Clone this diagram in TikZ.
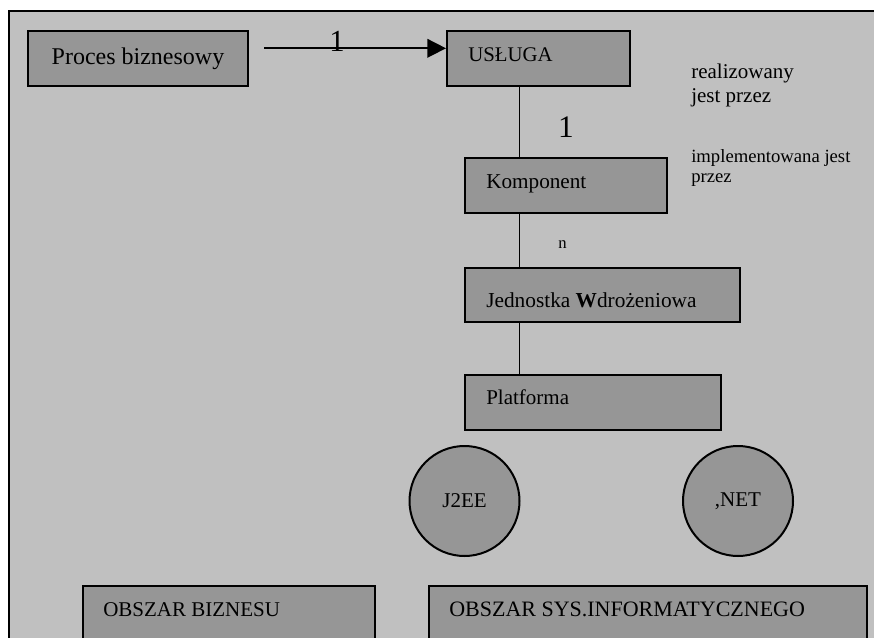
\documentclass[tikz,border=0pt]{standalone}
\usepackage{fontspec}
\setmainfont{Liberation Serif}
\usetikzlibrary{arrows.meta}

\definecolor{panel}{RGB}{192,192,192}
\definecolor{boxfill}{RGB}{150,150,150}

\begin{document}
\begin{tikzpicture}[x=0.75pt,y=-0.75pt,
  box/.style={draw=black, line width=1.5pt, fill=boxfill, inner sep=0pt, anchor=north west},
  lbl/.style={inner sep=0pt, anchor=base west, text=black},
  mult/.style={inner sep=0pt, anchor=base, text=black},
  conn/.style={draw=black, line width=1.2pt},
  disc/.style={circle, draw=black, line width=1.5pt, fill=boxfill, minimum size=82.5pt,
               inner sep=0pt, font=\fontsize{15.75}{18}\selectfont},
  txt/.style={font=\fontsize{15.75}{18}\selectfont}
]
% page area and the grey panel with its top and left frame lines
\clip (0,0) rectangle (874,638);
\fill[white] (0,0) rectangle (874,638);
\fill[panel] (9,11) rectangle (890,660);
\draw[line width=1.3pt] (9,660) -- (9,11) -- (890,11);

% business process
\node[box, minimum width=165pt, minimum height=40.9pt,
      font=\fontsize{18}{21}\selectfont] (proc) at (27,30.5) {Proces biznesowy};

% service chain
\node[box, minimum width=137.25pt, minimum height=41.25pt] (usluga) at (446,30) {};
\node[lbl, txt, font=\fontsize{15.6}{18}\selectfont] (uslugaT) at (468,62) {USŁUGA};

\node[box, minimum width=151.5pt, minimum height=41.25pt] (komp) at (464,157) {};
\node[lbl, font=\fontsize{15.9}{18}\selectfont] (kompT) at (486,188) {Komponent};

\node[box, minimum width=206.25pt, minimum height=40.5pt] (jedn) at (464,267) {};
\node[lbl, font=\fontsize{16}{18}\selectfont] (jednT) at (486,307) {Jednostka \textbf{W}drożeniowa};

\node[box, minimum width=192pt, minimum height=41.25pt] (plat) at (464,374) {};
\node[lbl, txt] (platT) at (486,404) {Platforma};

% platforms
\node[disc] (j2ee) at (464.5,501) {J2EE};
\node[disc] (dotnet) at (738,501) {,NET};

% areas along the bottom
\node[box, minimum width=219pt, minimum height=90pt] (obsB) at (82,585) {};
\node[lbl, font=\fontsize{15.75}{18}\selectfont] (obsBT) at (103,616) {OBSZAR BIZNESU};
\node[box, minimum width=328.5pt, minimum height=90pt] (obsS) at (428,585) {};
\node[lbl, font=\fontsize{16.5}{18}\selectfont] (obsST) at (449,616) {OBSZAR SYS.INFORMATYCZNEGO};

% connectors
\coordinate (arrFrom) at (264,48.3);
\coordinate (spine) at (519.3,0);
\draw[conn, -{Triangle[length=14pt,width=14pt]}] (arrFrom) -- (usluga.west |- arrFrom);
\draw[conn] (usluga.south -| spine) -- (komp.north -| spine);
\draw[conn] (komp.south -| spine) -- (jedn.north -| spine);
\draw[conn] (jedn.south -| spine) -- (plat.north -| spine);

% multiplicities
\node[mult, font=\fontsize{23}{24}\selectfont] (m1) at (337,52) {1};
\node[mult, font=\fontsize{23.5}{24}\selectfont] (m2) at (566,138) {1};
\node[mult, font=\fontsize{12.5}{14}\selectfont] (mn) at (562.5,248) {n};

% relation notes
\node[lbl, txt] (noteA1) at (691,79) {realizowany};
\node[lbl, txt] (noteA2) at (691,103) {jest przez};
\node[lbl, font=\fontsize{14}{16}\selectfont] (noteB1) at (691,162) {implementowana jest};
\node[lbl, font=\fontsize{14}{16}\selectfont] (noteB2) at (691,183) {przez};
\end{tikzpicture}
\end{document}
